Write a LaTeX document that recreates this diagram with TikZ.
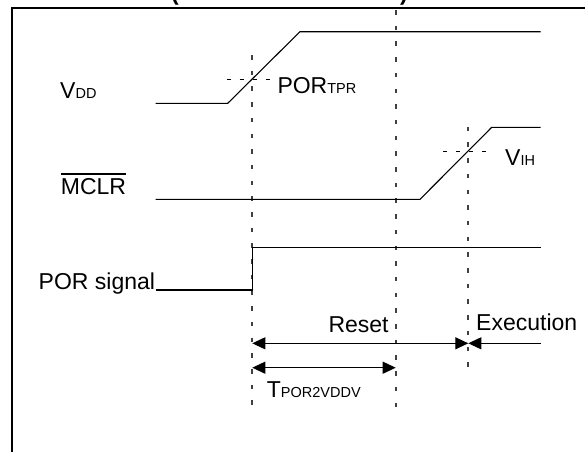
\documentclass[tikz,border=0pt]{standalone}
\usepackage{fontspec}
\setmainfont{Liberation Sans}
\usetikzlibrary{arrows.meta,calc}
\newcommand{\smallsub}[1]{{\fontsize{14.5}{17}\selectfont #1}}
\begin{document}
\begin{tikzpicture}[x=1pt,y=-1pt,
  lbl/.style={inner sep=0pt, anchor=base west, font=\fontsize{23}{27}\selectfont},
  wave/.style={line width=1.1pt, black},
  guide/.style={line width=1.7pt, black!75, dash pattern=on 4.5pt off 11.2pt},
  thr/.style={line width=1pt, black, dash pattern=on 4pt off 9pt},
  frm/.style={line width=2pt, black},
  dimboth/.style={line width=1.2pt, {Triangle[length=13pt,width=12pt]}-{Triangle[length=13pt,width=12pt]}},
  dimone/.style={line width=1.2pt, -{Triangle[length=13pt,width=12pt]}},
]
\useasboundingbox (0,0) rectangle (585,451);

% frame and cut-off title
\coordinate (fbl) at (11.7,460);
\coordinate (ftl) at (11.7,7.5);
\coordinate (ftr) at (600,7.5);
\draw[frm] (fbl) -- (ftl) -- (ftr);
\node[lbl, font=\fontsize{23}{27}\selectfont\bfseries] (lpar) at (171,0) {(};
\node[lbl, font=\fontsize{23}{27}\selectfont\bfseries] (rpar) at (400,0) {)};

% guide lines
\coordinate (g1t) at (252.3,55);   \coordinate (g1b) at (252.3,415);
\coordinate (g2t) at (395.7,10);   \coordinate (g2b) at (395.7,415);
\coordinate (g3t) at (468.3,126.7); \coordinate (g3b) at (468.3,366.7);
\draw[guide] (g1t) -- (g1b);
\draw[guide] (g2t) -- (g2b);
\draw[guide] (g3t) -- (g3b);

% thresholds
\coordinate (th1a) at (226.7,79.3); \coordinate (th1b) at (276.7,79.3);
\coordinate (th2a) at (443,151);    \coordinate (th2b) at (491.7,151);
\draw[thr] (th1a) -- (th1b);
\draw[thr] (th2a) -- (th2b);

% waveforms
\coordinate (v0) at (155.7,103.3); \coordinate (v1) at (227.7,103.3);
\coordinate (v2) at (300,31.7);    \coordinate (v3) at (540.7,31.7);
\draw[wave] (v0) -- (v1) -- (v2) -- (v3);
\coordinate (m0) at (155.7,199.3); \coordinate (m1) at (420,199.3);
\coordinate (m2) at (491.7,127.3); \coordinate (m3) at (540.7,127.3);
\draw[wave] (m0) -- (m1) -- (m2) -- (m3);
\coordinate (p0) at (155.7,290);   \coordinate (p1) at (252.3,290);
\coordinate (p2) at (252.3,247.3); \coordinate (p3) at (540.7,247.3);
\draw[wave] (p0) -- (p1) -- (p2) -- (p3);

% labels
\node[lbl] (vdd) at (60,98) {V\smallsub{DD}};
\node[lbl] (portpr) at (277.3,93.3) {POR\smallsub{TPR}};
\node[lbl] (mclr) at (60.7,194) {MCLR};
\draw[line width=1.2pt] ($(mclr.base west)+(0,-20)$) -- ($(mclr.base east)+(0,-20)$);
\node[lbl] (vih) at (505,165) {V\smallsub{IH}};
\node[lbl] (porsig) at (38.5,289.3) {POR signal};
\node[lbl] (reset) at (328.3,332.5) {Reset};
\node[lbl] (exec) at (476,330.7) {Execution};
\node[lbl] (tpor) at (266.7,397.3) {T\smallsub{POR2VDDV}};

% dimension arrows
\coordinate (a1l) at (252.3,343.3); \coordinate (a1r) at (468.3,343.3);
\coordinate (a2r) at (540.7,343.3);
\coordinate (b1l) at (252.3,367.7); \coordinate (b1r) at (395.7,367.7);
\draw[dimboth] (a1l) -- (a1r);
\draw[dimone] (a2r) -- (a1r);
\draw[dimboth] (b1l) -- (b1r);
\end{tikzpicture}
\end{document}
